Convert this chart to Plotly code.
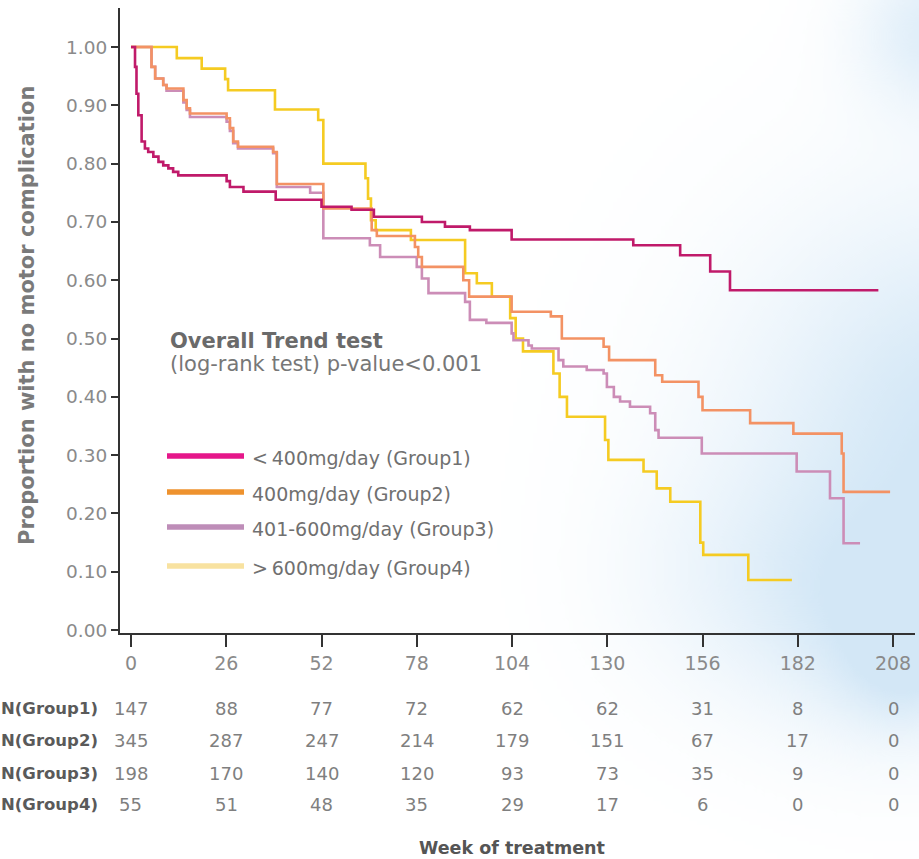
import base64, struct, zlib
import numpy as np
import plotly.graph_objects as go

# ---------------- data ----------------
weeks_g1 = [0, 1.1, 1.5, 2.0, 2.9, 3.8, 4.7, 6.1, 7.5, 8.8, 10.2, 11.5, 12.9, 26.1, 27.0, 30.7, 39.5,
            52.0, 60.2, 66.3, 79.4, 85.7, 92.5, 103.9, 137.1, 149.9, 158.1, 163.5, 204.0]
surv_g1 = [1.0, 0.966, 0.92, 0.883, 0.838, 0.826, 0.820, 0.812, 0.803, 0.797, 0.792, 0.786, 0.780, 0.770, 0.760, 0.752, 0.738,
           0.726, 0.721, 0.709, 0.700, 0.692, 0.686, 0.670, 0.660, 0.643, 0.615, 0.583, 0.583]

weeks_g2 = [0, 5.6, 6.6, 8.8, 9.7, 14.3, 15.2, 16.1, 26.1, 27.0, 27.9, 29.2, 38.8, 39.8, 52.5, 65.7, 67.1,
            77.5, 78.4, 79.4, 90.7, 92.3, 103.9, 114.6, 117.6, 129.0, 130.5, 143.1, 145.0, 154.9, 156.0,
            169.0, 180.8, 194.0, 194.5, 207.2]
surv_g2 = [1.0, 0.966, 0.946, 0.935, 0.929, 0.909, 0.895, 0.886, 0.878, 0.861, 0.838, 0.829, 0.820, 0.765, 0.723, 0.686, 0.676,
           0.657, 0.640, 0.623, 0.600, 0.572, 0.546, 0.538, 0.500, 0.486, 0.463, 0.437, 0.426, 0.400, 0.377,
           0.355, 0.337, 0.303, 0.237, 0.237]

weeks_g3 = [0, 5.6, 6.6, 8.8, 9.7, 14.3, 15.2, 16.1, 26.1, 27.0, 27.9, 29.2, 38.8, 39.8, 48.9, 52.5, 65.2, 68.0,
            78.0, 79.4, 81.2, 91.2, 92.5, 97.0, 103.9, 104.4, 108.5, 109.4, 116.7, 118.0, 124.4, 129.0, 129.9,
            131.8, 133.5, 136.2, 141.7, 143.1, 144.0, 155.8, 181.7, 190.8, 194.5, 199.0]
surv_g3 = [1.0, 0.966, 0.946, 0.935, 0.925, 0.905, 0.892, 0.880, 0.872, 0.856, 0.835, 0.826, 0.818, 0.760, 0.750, 0.672, 0.660, 0.640,
           0.623, 0.603, 0.578, 0.563, 0.532, 0.527, 0.509, 0.497, 0.488, 0.483, 0.463, 0.452, 0.446, 0.440, 0.417,
           0.400, 0.392, 0.383, 0.372, 0.343, 0.330, 0.303, 0.272, 0.226, 0.149, 0.149]

weeks_g4 = [0, 12.5, 19.3, 25.7, 26.5, 39.3, 51.1, 52.5, 64.0, 64.7, 65.5, 66.8, 76.4, 91.2, 94.4, 98.5,
            103.5, 105.0, 107.0, 115.3, 117.0, 119.0, 129.4, 130.3, 139.9, 143.5, 147.2, 155.4, 156.2, 168.5, 180.4]
surv_g4 = [1.0, 0.981, 0.963, 0.945, 0.926, 0.893, 0.875, 0.800, 0.775, 0.740, 0.703, 0.686, 0.669, 0.612, 0.595, 0.572,
           0.535, 0.500, 0.478, 0.440, 0.400, 0.366, 0.326, 0.292, 0.272, 0.243, 0.220, 0.150, 0.129, 0.086, 0.086]

group_names = ["<\u2009400mg/day (Group1)", "400mg/day (Group2)", "401-600mg/day (Group3)", ">\u2009600mg/day (Group4)"]
risk_labels = ["N(Group1)", "N(Group2)", "N(Group3)", "N(Group4)"]
risk_weeks = [0, 26, 52, 78, 104, 130, 156, 182, 208]
risk_g1 = [147, 88, 77, 72, 62, 62, 31, 8, 0]
risk_g2 = [345, 287, 247, 214, 179, 151, 67, 17, 0]
risk_g3 = [198, 170, 140, 120, 93, 73, 35, 9, 0]
risk_g4 = [55, 51, 48, 35, 29, 17, 6, 0, 0]
y_ticks = [0.0, 0.1, 0.2, 0.3, 0.4, 0.5, 0.6, 0.7, 0.8, 0.9, 1.0]

# ---------------- styling ----------------
W, H = 919, 859
L, R, T, B = 120, 4, 8, 226
PW, PH = W - L - R, H - T - B

def xp(px):
    return (px - L) / PW

def yp(py):
    return (H - B - py) / PH

curve_colors = ["#C01A6A", "#F39264", "#CC8DB7", "#F5CB22"]
legend_colors = ["#E5178A", "#EE922E", "#BE8DB8", "#F8E2A0"]
FONT = "DejaVu Sans, Verdana, sans-serif"

fig = go.Figure()
series = [(weeks_g1, surv_g1), (weeks_g2, surv_g2), (weeks_g3, surv_g3), (weeks_g4, surv_g4)]
for i in [3, 2, 1, 0]:
    wk, sv = series[i]
    fig.add_trace(go.Scatter(x=wk, y=sv, mode="lines", line=dict(color=curve_colors[i], width=2.6, shape="hv"),
                             name=group_names[i], showlegend=False, hoverinfo="skip"))

# ---------------- background cloud (decoration) ----------------
gw, gh = 230, 215
yy, xx = np.mgrid[0:gh, 0:gw]
fx = xx * W / gw
fy = yy * H / gh
blobs = [(965, 430, 155, 1.0), (860, 610, 80, 0.55), (905, 665, 45, 0.55),
         (720, 580, 85, 0.25), (935, 30, 55, 0.7)]
a = np.zeros((gh, gw))
for cx, cy, s, amp in blobs:
    a += amp * np.exp(-((fx - cx) ** 2 + (fy - cy) ** 2) / (2 * s * s))
a = np.clip(a, 0, 1) * 0.8
img = np.zeros((gh, gw, 4), dtype=np.uint8)
img[..., 0] = 200
img[..., 1] = 225
img[..., 2] = 244
img[..., 3] = (a * 255).astype(np.uint8)

def png_bytes(arr):
    h, w = arr.shape[:2]
    raw = b"".join(b"\x00" + arr[r].tobytes() for r in range(h))
    def chunk(t, d):
        return struct.pack(">I", len(d)) + t + d + struct.pack(">I", zlib.crc32(t + d) & 0xFFFFFFFF)
    return (b"\x89PNG\r\n\x1a\n" + chunk(b"IHDR", struct.pack(">IIBBBBB", w, h, 8, 6, 0, 0, 0))
            + chunk(b"IDAT", zlib.compress(raw, 9)) + chunk(b"IEND", b""))

src = "data:image/png;base64," + base64.b64encode(png_bytes(img)).decode()
fig.add_layout_image(dict(source=src, xref="paper", yref="paper", x=xp(0), y=yp(0),
                          sizex=W / PW, sizey=H / PH, xanchor="left", yanchor="top",
                          sizing="stretch", layer="below"))

# ---------------- annotations ----------------
ann = []
ann.append(dict(text="<b>Proportion with no motor complication</b>", x=xp(27), y=yp(316), xref="paper", yref="paper",
                xanchor="center", yanchor="middle", textangle=-90, showarrow=False,
                font=dict(size=21, color="#7a7a7a", family=FONT)))
ann.append(dict(text="<b>Overall Trend test</b>", x=xp(168), y=yp(341), xref="paper", yref="paper",
                xanchor="left", yanchor="middle", showarrow=False, font=dict(size=21, color="#6a6a6a", family=FONT)))
ann.append(dict(text="(log-rank test) p-value<0.001", x=xp(168), y=yp(364), xref="paper", yref="paper",
                xanchor="left", yanchor="middle", showarrow=False, font=dict(size=21, color="#777777", family=FONT)))

leg_y = [456, 492, 527, 566]
shapes = []
for i in range(4):
    shapes.append(dict(type="line", xref="paper", yref="paper", x0=xp(167), x1=xp(244), y0=yp(leg_y[i]), y1=yp(leg_y[i]),
                       line=dict(color=legend_colors[i], width=5.5)))
    ann.append(dict(text=group_names[i], x=xp(250), y=yp(leg_y[i] + 2), xref="paper", yref="paper",
                    xanchor="left", yanchor="middle", showarrow=False,
                    font=dict(size=19, color="#707070", family=FONT)))

row_y = [708, 740, 773, 805]
risk = [risk_g1, risk_g2, risk_g3, risk_g4]
for r in range(4):
    ann.append(dict(text="<b>" + risk_labels[r] + "</b>", x=xp(100), y=yp(row_y[r]), xref="paper", yref="paper",
                    xanchor="right", yanchor="middle", showarrow=False,
                    font=dict(size=16.5, color="#5a5a5a", family=FONT)))
    for wk, n in zip(risk_weeks, risk[r]):
        ann.append(dict(text=str(n), x=wk, y=yp(row_y[r]), xref="x", yref="paper", xanchor="center",
                        yanchor="middle", showarrow=False, font=dict(size=18, color="#7f7f7f", family=FONT)))
ann.append(dict(text="<b>Week of treatment</b>", x=xp(512), y=yp(848), xref="paper", yref="paper",
                xanchor="center", yanchor="middle", showarrow=False,
                font=dict(size=17.5, color="#555555", family=FONT)))

fig.update_layout(
    width=W, height=H, margin=dict(l=L, r=R, t=T, b=B),
    paper_bgcolor="white", plot_bgcolor="rgba(0,0,0,0)",
    annotations=ann, shapes=shapes, showlegend=False,
    xaxis=dict(range=[-3.0, 214.0], tickvals=risk_weeks, ticks="outside", ticklen=12, tickwidth=1.5,
               tickcolor="#333", showline=True, linecolor="#333", linewidth=1.5, showgrid=False, zeroline=False,
               tickfont=dict(size=19, color="#8a8a8a", family=FONT)),
    yaxis=dict(range=[-0.005, 1.067], tickvals=y_ticks, tickformat=".2f", ticks="outside", ticklen=7, tickwidth=2,
               tickcolor="#333", showline=True, linecolor="#333", linewidth=2, showgrid=False, zeroline=False,
               tickfont=dict(size=18.5, color="#8a8a8a", family=FONT)),
)

fig.write_html("out.html", config={"displayModeBar": False},
               post_script="document.body.style.margin='0px';")
